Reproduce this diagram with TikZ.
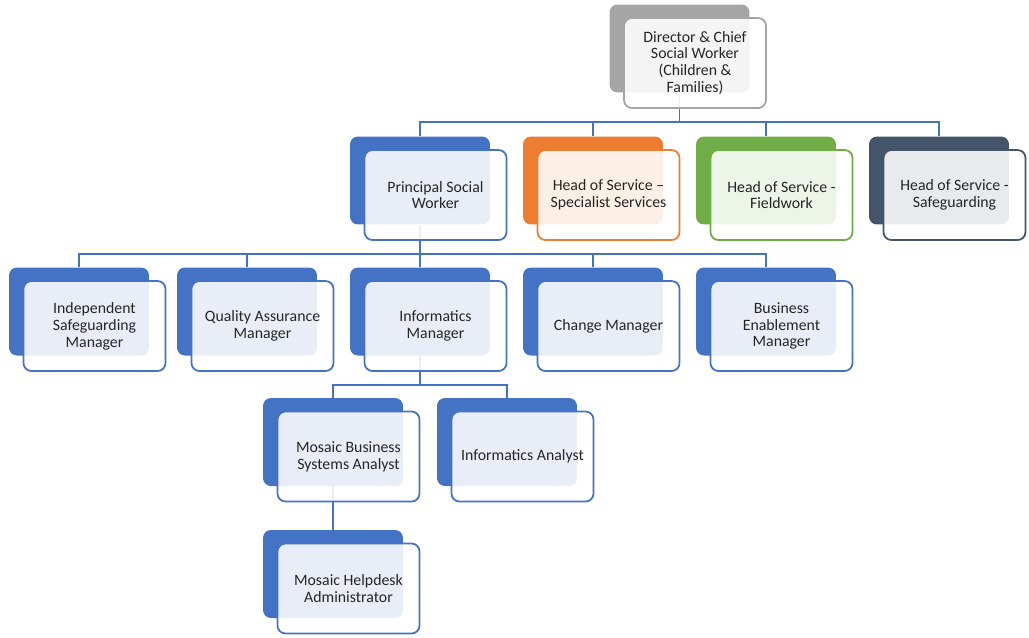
\documentclass[tikz,border=0pt]{standalone}
\usepackage{fontspec}
\setmainfont{Carlito}
\usetikzlibrary{calc}
\usetikzlibrary{backgrounds}
\definecolor{ablue}{HTML}{4472C4}
\definecolor{aorange}{HTML}{ED7D31}
\definecolor{agreen}{HTML}{70AD47}
\definecolor{aslate}{HTML}{44546A}
\definecolor{agrey}{HTML}{A5A5A5}
\tikzstyle{back} = [rectangle, rounded corners=4.5pt, fill=ablue,
    minimum width=2.8cm, minimum height=1.76cm, inner sep=0pt]
\tikzstyle{card} = [rectangle, rounded corners=4.5pt, draw=ablue, line width=1pt,
    fill=white, fill opacity=0.88, text opacity=1, text=black!85, align=center,
    minimum width=2.84cm, minimum height=1.8cm, inner sep=0pt,
    font=\fontsize{9}{9.6}\selectfont]
\tikzstyle{line} = [draw, ablue, line width=1pt]

\begin{document}
\begin{tikzpicture}[x=0.02cm, y=-0.02cm]
    \useasboundingbox (0,0) rectangle (1029,637);
    % Place nodes
    \node [back, fill=agrey] (dir-b) at (679.5,48.5) {};
    \node [card, draw=agrey] (dir) at ($(dir-b)+(15.5,14.5)$) {Director \& Chief\\Social Worker\\(Children \&\\Families)};
    \node [back] (psw-b) at (420,180.5) {};
    \node [card] (psw) at ($(psw-b)+(15.5,14.5)$) {Principal Social\\Worker};
    \node [back, fill=aorange] (hss-b) at (593,180.5) {};
    \node [card, draw=aorange] (hss) at ($(hss-b)+(15.5,14.5)$) {Head of Service --\\Specialist Services};
    \node [back, fill=agreen] (hsf-b) at (766,180.5) {};
    \node [card, draw=agreen] (hsf) at ($(hsf-b)+(15.5,14.5)$) {Head of Service -\\Fieldwork};
    \node [back, fill=aslate] (hsg-b) at (939,180.5) {};
    \node [card, draw=aslate] (hsg) at ($(hsg-b)+(15.5,14.5)$) {Head of Service -\\Safeguarding};
    \node [back] (ism-b) at (79,311.5) {};
    \node [card] (ism) at ($(ism-b)+(15.5,14.5)$) {Independent\\Safeguarding\\Manager};
    \node [back] (qam-b) at (247,311.5) {};
    \node [card] (qam) at ($(qam-b)+(15.5,14.5)$) {Quality Assurance\\Manager};
    \node [back] (inf-b) at (420,311.5) {};
    \node [card] (inf) at ($(inf-b)+(15.5,14.5)$) {Informatics\\Manager};
    \node [back] (chg-b) at (593,311.5) {};
    \node [card] (chg) at ($(chg-b)+(15.5,14.5)$) {Change Manager};
    \node [back] (bem-b) at (766,311.5) {};
    \node [card] (bem) at ($(bem-b)+(15.5,14.5)$) {Business\\Enablement\\Manager};
    \node [back] (mbs-b) at (333,442) {};
    \node [card] (mbs) at ($(mbs-b)+(15.5,14.5)$) {Mosaic Business\\Systems Analyst};
    \node [back] (ina-b) at (507,442) {};
    \node [card] (ina) at ($(ina-b)+(15.5,14.5)$) {Informatics Analyst};
    \node [back] (mha-b) at (333,574) {};
    \node [card] (mha) at ($(mha-b)+(15.5,14.5)$) {Mosaic Helpdesk\\Administrator};
    % Bus heights
    \coordinate (bus1) at (0,122);
    \coordinate (bus2) at (0,254);
    \coordinate (bus3) at (0,385);
    % Draw edges
    \begin{pgfonlayer}{background}
    \path [line] (dir-b.south) -- (dir-b.south |- bus1) -| (psw-b.north);
    \path [line] (dir-b.south) -- (dir-b.south |- bus1) -| (hss-b.north);
    \path [line] (dir-b.south) -- (dir-b.south |- bus1) -| (hsf-b.north);
    \path [line] (dir-b.south) -- (dir-b.south |- bus1) -| (hsg-b.north);
    \path [line] (psw-b.south) -- (psw-b.south |- bus2) -| (ism-b.north);
    \path [line] (psw-b.south) -- (psw-b.south |- bus2) -| (qam-b.north);
    \path [line] (psw-b.south) -- (inf-b.north);
    \path [line] (psw-b.south) -- (psw-b.south |- bus2) -| (chg-b.north);
    \path [line] (psw-b.south) -- (psw-b.south |- bus2) -| (bem-b.north);
    \path [line] (inf-b.south) -- (inf-b.south |- bus3) -| (mbs-b.north);
    \path [line] (inf-b.south) -- (inf-b.south |- bus3) -| (ina-b.north);
    \path [line] (mbs-b.south) -- (mha-b.north);
    \end{pgfonlayer}
\end{tikzpicture}
\end{document}
